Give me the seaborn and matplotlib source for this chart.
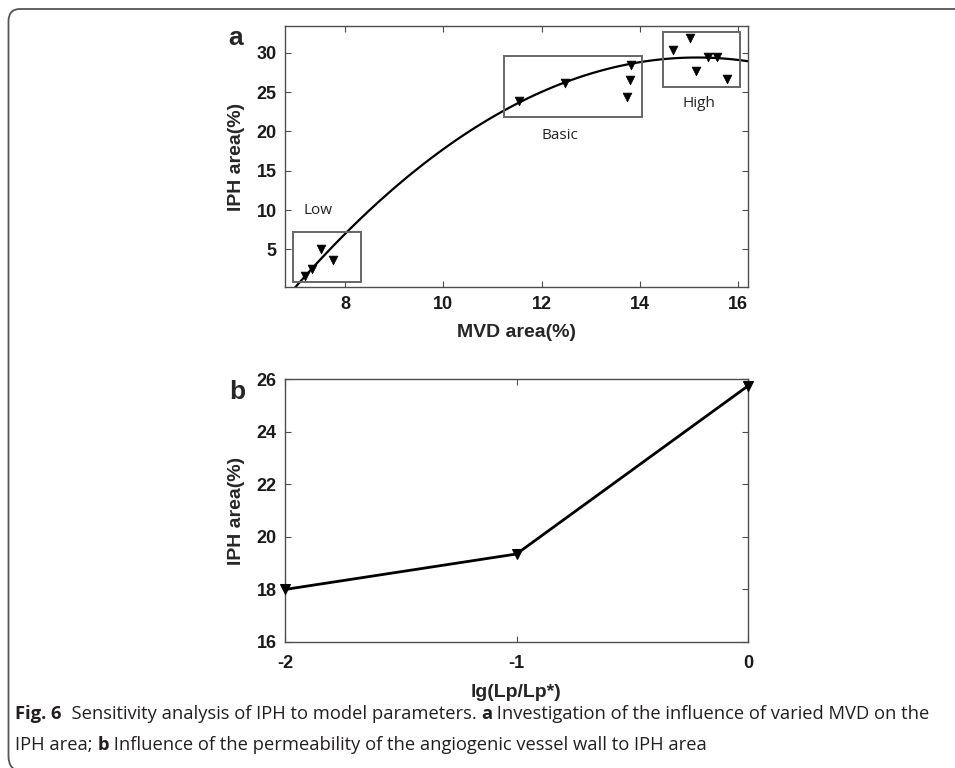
import matplotlib
matplotlib.use("Agg")
import matplotlib.pyplot as plt
import seaborn as sns
import pandas as pd
from matplotlib.patches import Rectangle, PathPatch
from matplotlib.path import Path

# ---------------- data ----------------
# Panel a: MVD area vs IPH area
mvd_area = [7.18, 7.32, 7.50, 7.75, 11.54, 12.47, 13.83, 13.80, 13.75,
            14.69, 15.03, 15.14, 15.39, 15.58, 15.78]
iph_area_a = [1.6, 2.5, 5.0, 3.7, 23.9, 26.1, 28.4, 26.5, 24.4,
              30.4, 31.9, 27.7, 29.4, 29.4, 26.7]
# points that lie on the drawn trend curve (used for the quadratic fit)
on_curve = [True, True, False, False, True, True, True, False, False,
            False, False, False, True, True, False]
group_names = ["Low", "Basic", "High"]
group_box_x = [(6.93, 8.32), (11.24, 14.04), (14.48, 16.05)]
group_box_y = [(0.84, 7.14), (21.82, 29.58), (25.6, 32.64)]
group_label_xy = [(7.45, 9.9), (12.38, 19.5), (15.21, 23.56)]
xticks_a = [8, 10, 12, 14, 16]
yticks_a = [5, 10, 15, 20, 25, 30]

# Panel b: lg(Lp/Lp*) vs IPH area
lg_lp = [-2, -1, 0]
iph_area_b = [18.0, 19.35, 25.75]
xticks_b = [-2, -1, 0]
yticks_b = [16, 18, 20, 22, 24, 26]

df_a = pd.DataFrame({"mvd": mvd_area, "iph": iph_area_a, "on_curve": on_curve})
df_b = pd.DataFrame({"lg": lg_lp, "iph": iph_area_b})

# ---------------- style ----------------
sns.set_style("white")
plt.rcParams["font.family"] = ["Liberation Sans", "DejaVu Sans"]
plt.rcParams["axes.unicode_minus"] = False

W, H = 955, 768
fig = plt.figure(figsize=(W / 100, H / 100), dpi=100)

spine_col = "#4d4d4d"
label_font = dict(fontsize=14, fontweight="bold")


def style_axes(ax):
    for s in ax.spines.values():
        s.set_visible(True)
        s.set_color(spine_col)
        s.set_linewidth(1.0)
    ax.tick_params(direction="in", length=4, width=0.8, color=spine_col,
                   top=True, right=True, bottom=True, left=True,
                   labelsize=13, labelcolor="#1a1a1a", pad=6)
    for lab in ax.get_xticklabels() + ax.get_yticklabels():
        lab.set_fontweight("bold")


# ---------------- panel a ----------------
ax1 = fig.add_axes([285 / W, 1 - 287.3 / H, 463 / W, 261.3 / H])
ax1.set_xlim(6.77, 16.21)
ax1.set_ylim(0.17, 33.4)
sns.regplot(data=df_a[df_a["on_curve"]], x="mvd", y="iph", order=2, ci=None,
            scatter=False, truncate=False, ax=ax1,
            line_kws=dict(color="black", lw=1.6))
sns.scatterplot(data=df_a, x="mvd", y="iph", marker="v", s=40, color="black",
                edgecolor="black", linewidth=0.5, ax=ax1, zorder=5)
ax1.set_xlim(6.77, 16.21)
ax1.set_ylim(0.17, 33.4)
for name, bx, by, (lx, ly) in zip(group_names, group_box_x, group_box_y, group_label_xy):
    ax1.add_patch(Rectangle((bx[0], by[0]), bx[1] - bx[0], by[1] - by[0],
                            fill=False, edgecolor="#666666", lw=1.4, zorder=4))
    ax1.text(lx, ly, name, ha="center", va="center", fontsize=11,
             family="Open Sans", color="#222222")
ax1.set_xticks(xticks_a)
ax1.set_yticks(yticks_a)
ax1.set_xlabel("MVD area(%)", labelpad=8, **label_font)
ax1.set_ylabel("IPH area(%)", labelpad=8, **label_font)
style_axes(ax1)
fig.text(236 / W, 1 - 38 / H, "a", fontsize=19, fontweight="bold",
         ha="center", va="center")

# ---------------- panel b ----------------
ax2 = fig.add_axes([285 / W, 1 - 642 / H, 463 / W, 262.7 / H])
sns.lineplot(data=df_b, x="lg", y="iph", color="black", lw=2.0, marker="v",
             markersize=7, markeredgecolor="black", ax=ax2, clip_on=False,
             zorder=5)
ax2.set_xlim(-2, 0)
ax2.set_ylim(16, 26)
ax2.set_xticks(xticks_b)
ax2.set_yticks(yticks_b)
ax2.set_xlabel("lg(Lp/Lp*)", labelpad=9, **label_font)
ax2.set_ylabel("IPH area(%)", labelpad=8, **label_font)
style_axes(ax2)
ax2.tick_params(axis="x", pad=9)
fig.text(237 / W, 1 - 392 / H, "b", fontsize=19, fontweight="bold",
         ha="center", va="center")

# ---------------- frame (open on right and bottom) ----------------
def fp(x, y):
    return (x / W, 1 - y / H)


verts = [fp(W + 10, 9), fp(20, 9), fp(8.5, 9), fp(8.5, 21),
         fp(8.5, 756), fp(8.5, 771), fp(22, 771)]
codes = [Path.MOVETO, Path.LINETO, Path.CURVE3, Path.CURVE3,
         Path.LINETO, Path.CURVE3, Path.CURVE3]
frame = PathPatch(Path(verts, codes), transform=fig.transFigure, fill=False,
                  edgecolor="#555555", lw=1.3, clip_on=False)
fig.patches.append(frame)

# ---------------- caption ----------------
cap_font = "Open Sans"
cap_size = 13.2
cap_col = "#231f20"
lines = [
    (714, [("Fig. 6", "bold"), ("  Sensitivity analysis of IPH to model parameters. ", "normal"),
           ("a", "bold"), (" Investigation of the influence of varied MVD on the", "normal")]),
    (745, [("IPH area; ", "normal"), ("b", "bold"),
           (" Influence of the permeability of the angiogenic vessel wall to IPH area", "normal")]),
]
renderer = fig.canvas.get_renderer()
for ypix, segs in lines:
    x = 15
    for txt, wt in segs:
        t = fig.text(x / W, 1 - ypix / H, txt, fontsize=cap_size, fontweight=wt,
                     family=cap_font, color=cap_col, ha="left", va="center")
        bb = t.get_window_extent(renderer=renderer)
        x += bb.width

fig.savefig("out.png", dpi=100)
